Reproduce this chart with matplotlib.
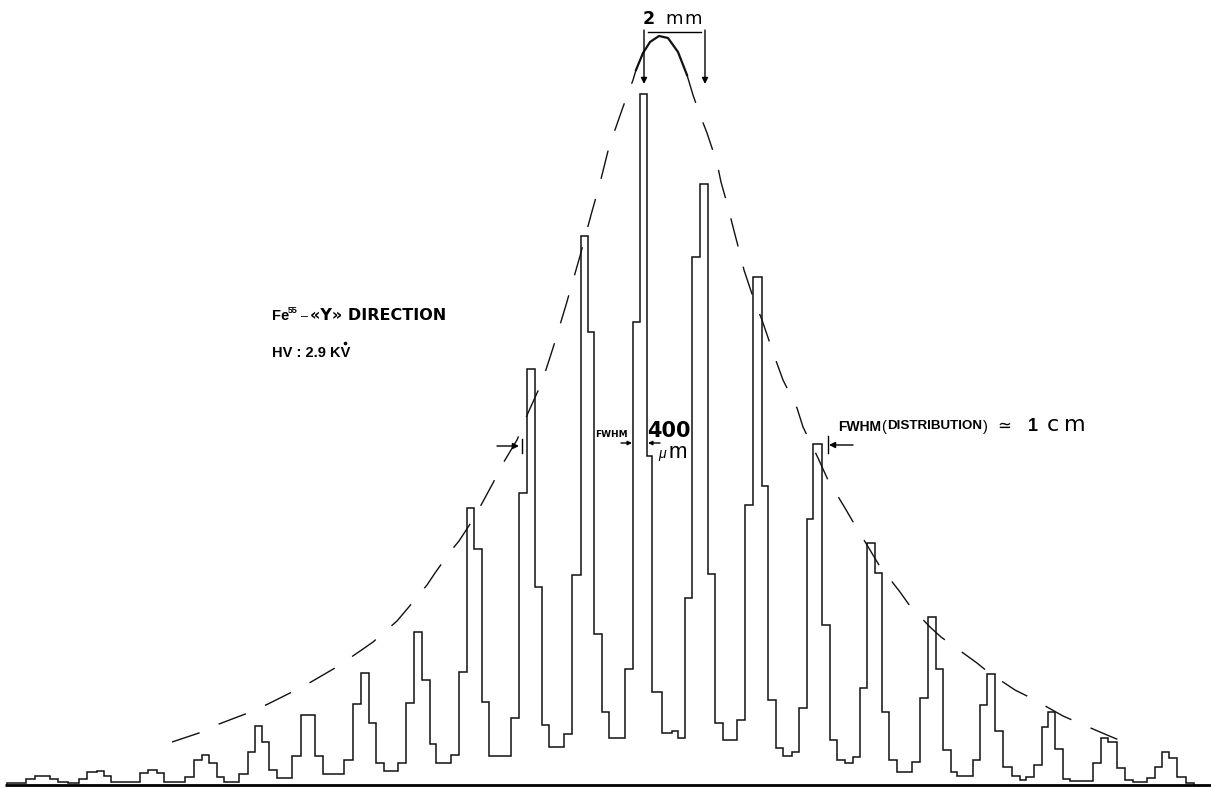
import matplotlib
matplotlib.use("Agg")
import matplotlib.pyplot as plt

plt.rcParams['font.family'] = ['Liberation Sans', 'DejaVu Sans']
plt.rcParams['lines.scale_dashes'] = False

# ---- pulse-height step trace (position in channels, counts) ----
edges = [7, 26, 35, 50, 58, 68, 79, 87, 97, 104, 111, 140, 148, 157, 164, 185,
         194, 202, 209, 217, 224, 239, 248, 255, 262, 269, 277, 292, 301, 315,
         323, 344, 353, 361, 369, 376, 384, 398, 406, 414, 422, 430, 436, 451,
         459, 467, 474, 482, 489, 511, 519, 527, 535, 542, 549, 564, 572, 581,
         588, 594, 602, 609, 625, 633, 640, 647, 652, 662, 672, 678, 685, 692,
         700, 708, 715, 723, 737, 745, 753, 762, 768, 776, 783, 792, 799, 807,
         813, 822, 830, 837, 845, 853, 860, 867, 875, 882, 889, 897, 912, 920,
         928, 936, 943, 951, 957, 973, 980, 987, 995, 1003, 1012, 1020, 1026,
         1034, 1042, 1048, 1055, 1063, 1070, 1093, 1101, 1108, 1117, 1125, 1133,
         1147, 1155, 1162, 1169, 1177, 1186, 1194]
counts = [2, 6, 9, 6, 3, 2, 6, 13, 14, 9, 3, 12, 15, 12, 3, 8,
          25, 30, 22, 8, 3, 11, 33, 59, 43, 15, 7, 29, 70, 29,
          11, 25, 81, 112, 62, 22, 14, 22, 82, 153, 105, 41, 22, 30,
          113, 277, 236, 83, 29, 67, 292, 416, 198, 60, 38, 51, 210, 549,
          453, 151, 73, 47, 116, 463, 691, 329, 93, 52, 54, 47, 187, 528,
          601, 211, 62, 45, 65, 280, 508, 299, 85, 37, 29, 33, 77, 266,
          341, 160, 45, 25, 22, 28, 97, 242, 212, 73, 25, 13, 23, 87,
          168, 116, 35, 13, 9, 25, 80, 111, 54, 18, 9, 5, 8,
          20, 58, 73, 36, 6, 4, 22, 47, 43, 17, 5, 3,
          7, 18, 33, 27, 8, 2]

# ---- envelope of the distribution (dashed) ----
env_left_x = [172, 199, 219, 248, 268, 292, 311, 335, 347, 363, 373, 397, 408,
              427, 435, 450, 459, 476, 480, 493, 502, 517, 528, 542, 553, 566,
              580, 591, 600, 609, 623, 633, 636]
env_left_h = [43, 52, 61, 72, 81, 93, 103, 117, 125, 136, 143, 164, 177,
              200, 212, 233, 244, 270, 278, 302, 320, 345, 372, 403, 437, 480,
              529, 570, 602, 638, 678, 705, 715]
env_top_x = [636, 643, 650, 659, 668, 678, 687]
env_top_h = [715, 732, 743, 749, 747, 733, 710]
env_right_x = [687, 693, 700, 707, 717, 721, 728, 732, 739, 744, 754, 762, 775,
               783, 797, 803, 818, 828, 845, 856, 867, 879, 900, 910, 930, 941,
               977, 988, 1015, 1031, 1063, 1079, 1107, 1119, 1137]
env_right_h = [710, 690, 670, 652, 622, 603, 578, 562, 535, 515, 485, 465, 427,
               405, 377, 358, 327, 305, 277, 258, 240, 220, 193, 179, 158, 148,
               122, 113, 95, 87, 69, 62, 50, 45, 40]

fig = plt.figure(figsize=(12.11, 7.88), dpi=100)
ax = fig.add_axes([0, 0, 1, 1])
ax.set_xlim(0, 1211)
ax.set_ylim(-3, 785)
ax.axis('off')

ax.stairs(counts, edges, baseline=0, color='#111111', lw=1.1)
ax.plot([5, 1211], [0, 0], color='black', lw=2.0, solid_capstyle='butt')

ax.plot(env_left_x, env_left_h, color='#111111', lw=1.0, dashes=(21, 15))
ax.plot(env_top_x, env_top_h, color='#111111', lw=1.6)
ax.plot(env_right_x, env_right_h, color='#111111', lw=1.0, dashes=(21, 15))

# ---- annotation overlay in picture coordinates ----
ov = fig.add_axes([0, 0, 1, 1], facecolor='none')
ov.set_xlim(0, 1211)
ov.set_ylim(788, 0)
ov.axis('off')

ap = dict(arrowstyle='-|>', lw=1.0, color='black', mutation_scale=9,
          shrinkA=0, shrinkB=0)
DV = 'DejaVu Sans'

# 2 mm bracket
ov.text(643, 24, '2', fontsize=12.5, fontweight='bold', family=DV, va='baseline')
ov.text(665, 24, 'm', fontsize=13, family=DV, va='baseline')
ov.text(684, 24, 'm', fontsize=13, family=DV, va='baseline')
ov.plot([648, 701], [32, 32], color='black', lw=1.0)
ov.annotate('', xy=(644, 84), xytext=(644, 30), arrowprops=ap)
ov.annotate('', xy=(705, 84), xytext=(705, 30), arrowprops=ap)

# left labels
ov.text(272, 320, 'Fe', fontsize=10.5, fontweight='bold', va='baseline')
ov.text(288, 313, '55', fontsize=6.5, fontweight='bold', va='baseline')
ov.text(301, 320, '–', fontsize=9, va='baseline')
ov.text(310, 320, '«Y» DIRECTION', fontsize=11.5, fontweight='bold',
        family=DV, va='baseline')
ov.text(272, 357, 'HV : 2.9 KV', fontsize=10.5, fontweight='bold', va='baseline')
ov.plot([344.5], [343], marker='o', ms=1.6, color='black')

# left FWHM marker
ov.annotate('', xy=(519, 446), xytext=(497, 446), arrowprops=ap)
ov.plot([522, 522], [439, 453], color='black', lw=1.0)

# central FWHM 400 um
ov.text(595, 437, 'FWHM', fontsize=6.5, fontweight='bold', family=DV, va='baseline')
ov.annotate('', xy=(632, 443), xytext=(621, 443),
            arrowprops=dict(ap, mutation_scale=6))
ov.annotate('', xy=(648, 443), xytext=(660, 443),
            arrowprops=dict(ap, mutation_scale=6))
ov.text(647, 437, '400', fontsize=15, fontweight='bold', family=DV, va='baseline')
ov.text(658, 458, 'μ', fontsize=10, style='italic', va='baseline')
ov.text(669, 458, 'm', fontsize=16, va='baseline')

# right FWHM marker and label
ov.plot([828, 828], [436, 453], color='black', lw=1.0)
ov.annotate('', xy=(829, 445), xytext=(853, 445), arrowprops=ap)
ov.text(838, 431, 'FWHM', fontsize=10, fontweight='bold', va='baseline')
ov.text(881, 431, '(', fontsize=10.5, va='baseline')
ov.text(887, 429, 'DISTRIBUTION', fontsize=9.6, fontweight='bold', va='baseline')
ov.text(983, 431, ')', fontsize=10.5, va='baseline')
ov.text(997, 431, '≃', fontsize=12, family=DV, va='baseline')
ov.text(1028, 431, '1', fontsize=13, fontweight='bold', va='baseline')
ov.text(1047, 431, 'c', fontsize=16, family=DV, va='baseline')
ov.text(1064, 431, 'm', fontsize=16, family=DV, va='baseline')

fig.savefig('out.png', dpi=100, facecolor='white')
